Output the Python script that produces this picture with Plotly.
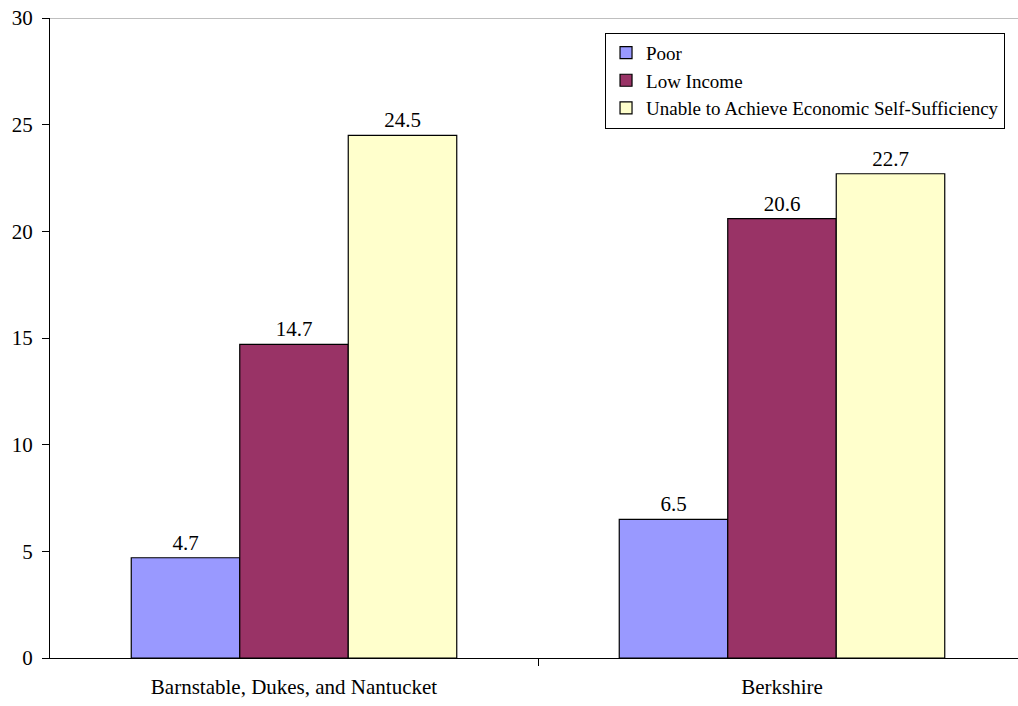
import plotly.graph_objects as go

categories = ["Barnstable, Dukes, and Nantucket", "Berkshire"]
series_names = ["Poor", "Low Income", "Unable to Achieve Economic Self-Sufficiency"]
poor = [4.7, 6.5]
low_income = [14.7, 20.6]
unable = [24.5, 22.7]
colors = ["#9999FF", "#993366", "#FFFFCC"]
y_ticks = [0, 5, 10, 15, 20, 25, 30]

FONT = "Times New Roman, Liberation Serif, DejaVu Serif, serif"
xpos = list(range(len(categories)))

fig = go.Figure()
for name, vals, col in zip(series_names, [poor, low_income, unable], colors):
    fig.add_trace(go.Bar(
        x=xpos, y=vals, name=name,
        marker=dict(color=col, line=dict(color="black", width=1.2)),
        text=[f"{v:.1f}" for v in vals], textposition="outside",
        textfont=dict(family=FONT, size=21, color="black"),
        cliponaxis=False,
    ))

fig.update_layout(
    width=1018, height=706,
    margin=dict(l=50, r=0, t=18, b=48),
    paper_bgcolor="white", plot_bgcolor="white",
    barmode="group", bargap=0.333, bargroupgap=0,
    font=dict(family=FONT, size=21, color="black"),
    showlegend=True,
    legend=dict(
        x=0.9866, y=0.977, xanchor="right", yanchor="top",
        bordercolor="black", borderwidth=1, bgcolor="white",
        font=dict(family=FONT, size=19, color="black"),
        itemwidth=30, tracegroupgap=0,
    ),
    xaxis=dict(
        range=[-0.5, -0.5 + 968 / 488], tickmode="array",
        tickvals=xpos, ticktext=categories, ticks="",
        showline=True, linecolor="black", linewidth=1,
        showgrid=False, zeroline=False, ticklabelstandoff=10,
        tickfont=dict(family=FONT, size=21, color="black"),
        minor=dict(tickmode="array", tickvals=[0.5], ticks="outside",
                   ticklen=7, tickcolor="black", showgrid=False),
    ),
    yaxis=dict(
        range=[0, 30], tickmode="array", tickvals=y_ticks,
        ticks="outside", ticklen=7, tickcolor="black",
        showline=True, linecolor="black", linewidth=1,
        showgrid=False, zeroline=False, ticklabelstandoff=5,
        tickfont=dict(family=FONT, size=21, color="black"),
    ),
    shapes=[dict(type="line", xref="paper", yref="y", x0=0, x1=1, y0=30, y1=30,
                 line=dict(color="#808080", width=1))],
)

fig.write_html("out.html")
